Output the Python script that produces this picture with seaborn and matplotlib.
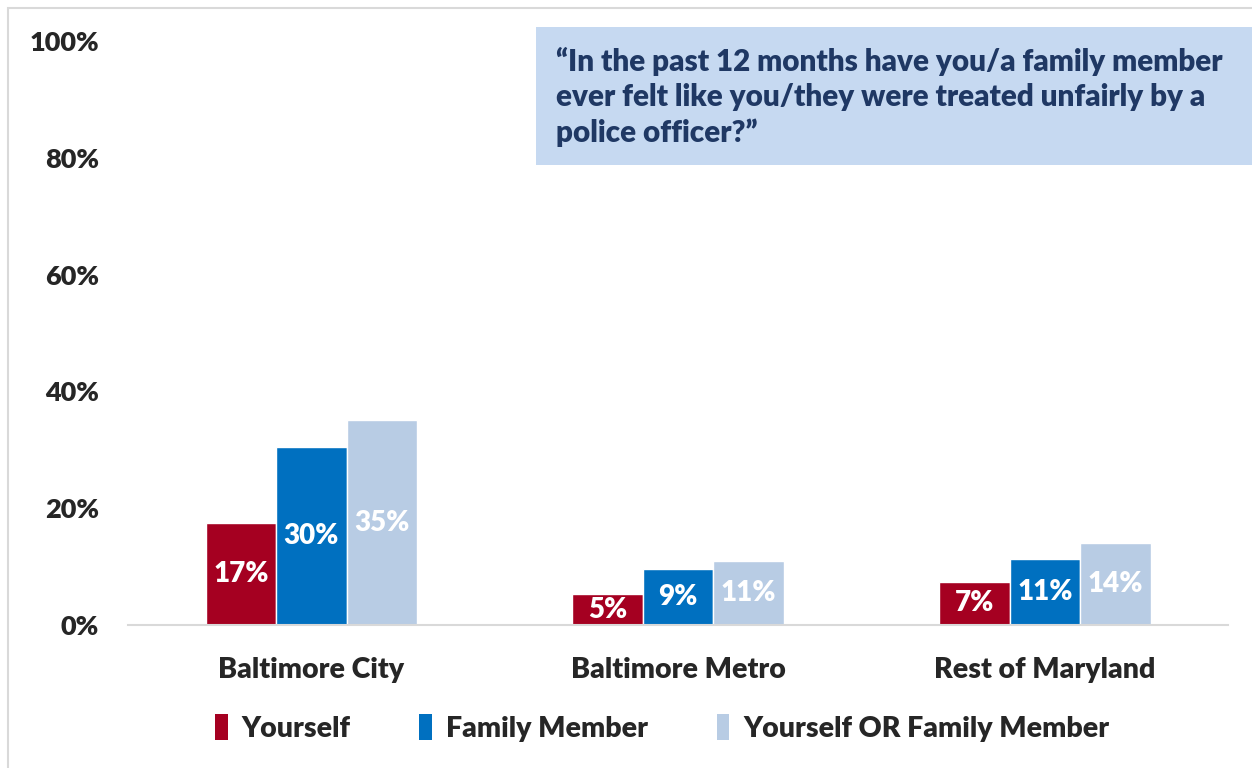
import pandas as pd
import numpy as np
import matplotlib.pyplot as plt
import seaborn as sns
from matplotlib.patches import Rectangle, Patch

sns.set_style("white")
plt.rcParams['font.family'] = ['Lato', 'DejaVu Sans']

regions = ["Baltimore City", "Baltimore Metro", "Rest of Maryland"]
groups = ["Yourself", "Family Member", "Yourself OR Family Member"]
yourself = [17.5, 5.3, 7.4]
family = [30.5, 9.6, 11.3]
either = [35.1, 11.0, 14.0]
labels = {
    "Yourself": ["17%", "5%", "7%"],
    "Family Member": ["30%", "9%", "11%"],
    "Yourself OR Family Member": ["35%", "11%", "14%"],
}
colors = ["#A50021", "#0070C0", "#B8CCE4"]
question = ("\u201cIn the past 12 months have you/a family member\n"
            "ever felt like you/they were treated unfairly by a\n"
            "police officer?\u201d")

df = pd.DataFrame({
    "Region": regions * 3,
    "Group": [g for g in groups for _ in regions],
    "Value": yourself + family + either,
})

W = "heavy"

fig = plt.figure(figsize=(12.52, 7.68), dpi=100)
ax = fig.add_axes([0.1022, 0.1862, 0.8788, 0.7604])

sns.barplot(data=df, x="Region", y="Value", hue="Group", hue_order=groups,
            palette=colors, width=0.577, gap=0, saturation=1, legend=False,
            ax=ax)

for cont, g in zip(ax.containers, groups):
    ax.bar_label(cont, labels=labels[g], label_type="center", color="white",
                 fontsize=20, fontweight=W)

ax.set_ylim(0, 100)
ax.set_xlim(-0.5, 2.5)
ax.set_yticks(np.arange(0, 101, 20))
ax.set_yticklabels([f"{v}%" for v in range(0, 101, 20)])
ax.tick_params(axis="y", length=0, pad=21, labelsize=19.5)
ax.tick_params(axis="x", length=0, pad=23, labelsize=20.5)
for t in ax.get_xticklabels() + ax.get_yticklabels():
    t.set_fontweight(W)
ax.set_xlabel("")
ax.set_ylabel("")
for s in ["top", "right", "left"]:
    ax.spines[s].set_visible(False)
ax.spines["bottom"].set_color("#D9D9D9")
ax.spines["bottom"].set_linewidth(1.5)

# question box
fig.patches.append(Rectangle((536 / 1252, 1 - 165 / 768), 1 - 536 / 1252, 138 / 768,
                             transform=fig.transFigure, facecolor="#C6D9F1",
                             edgecolor="none", zorder=0))
fig.text(556 / 1252, 1 - 97 / 768, question, ha="left", va="center",
         fontsize=21.3, fontweight=W, color="#1F3864", linespacing=1.3)

# legend
handles = [Patch(facecolor=c, edgecolor="none") for c in colors]
fig.legend(handles, groups, loc="center", bbox_to_anchor=(0.529, 1 - 728 / 768),
           ncol=3, frameon=False, handlelength=0.45, handleheight=1.0,
           handletextpad=0.5, columnspacing=2.4,
           prop={"size": 20.5, "weight": W})

# figure border
fig.patches.append(Rectangle((8 / 1252, -0.1), 1.2, 1.1 - 8 / 768,
                             transform=fig.transFigure, fill=False,
                             edgecolor="#D9D9D9", linewidth=1.5, clip_on=False))

plt.savefig("out.png", dpi=100)
plt.close()
